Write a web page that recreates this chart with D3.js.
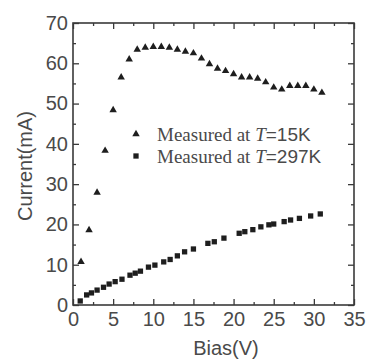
<!DOCTYPE html>
<html>
<head>
<meta charset="utf-8">
<script src="https://cdn.jsdelivr.net/npm/d3@7"></script>
<style>
  body { margin: 0; background: #fff; }
  svg { display: block; }
</style>
</head>
<body>
<div id="chart"></div>
<script>
// T = 15K (triangles)
const biasLow = [1, 2, 3, 4, 5, 6, 7, 8, 9, 10, 11, 12, 13, 14, 15, 16, 17, 18, 19, 20,
    21, 22, 23, 24, 25, 26, 27, 28, 29, 30, 31];
const currentLow = [10.7, 18.6, 27.9, 38.3, 48.4, 56.5, 61.0, 63.4, 63.9, 64.1, 64.1, 63.9, 63.4, 62.9,
    62.5, 61.2, 59.8, 58.7, 58.1, 57.3, 56.5, 56.5, 56.2, 55.3, 54.0, 53.5, 54.4, 54.4, 54.4, 53.5, 52.7];

// T = 297K (squares)
const biasHigh = [0.9, 1.7, 2.3, 3.0, 3.8, 4.5, 5.25, 6.1, 7.1, 7.75, 8.4, 9.4, 10.2, 11.3, 12.1, 13.0,
    13.9, 15.0, 16.8, 17.6, 18.8, 20.7, 21.4, 22.4, 23.4, 24.4, 25.0, 26.3, 27.1, 28.2, 29.6, 30.8];
const currentHigh = [1.0, 2.5, 3.0, 3.7, 4.4, 5.2, 5.8, 6.4, 7.4, 7.9, 8.4, 9.4, 9.9, 10.7, 11.3, 12.2,
    13.2, 13.9, 15.3, 15.7, 16.6, 17.8, 18.2, 18.7, 19.4, 19.9, 20.1, 20.7, 21.1, 21.5, 22.1, 22.6];

const xMajor = [0, 5, 10, 15, 20, 25, 30, 35];
const xMinor = [2.5, 7.5, 12.5, 17.5, 22.5, 27.5, 32.5];
const yMajor = [0, 10, 20, 30, 40, 50, 60, 70];
const yMinor = [5, 15, 25, 35, 45, 55, 65];

const width = 368, height = 359;
const margin = { top: 23, right: 14, bottom: 54, left: 73 };
const innerWidth = width - margin.left - margin.right;
const innerHeight = height - margin.top - margin.bottom;

const textColor = '#4a4a4a';
const frameColor = '#3a3a3a';
const markColor = '#1e1e1e';

const svg = d3.select('#chart').append('svg')
    .attr('width', width)
    .attr('height', height);

const chart = svg.append('g')
    .attr('transform', `translate(${margin.left}, ${margin.top})`);

const xScale = d3.scaleLinear().domain([0, 35]).range([0, innerWidth]);
const yScale = d3.scaleLinear().domain([0, 70]).range([innerHeight, 0]);

// all ticks point inward; unlabeled axes lose their empty texts
function styleAxis(g) {
    g.select('.domain').remove();
    g.selectAll('.tick line').attr('stroke', frameColor).attr('stroke-width', 1.3);
    g.selectAll('.tick text').filter(function() { return this.textContent === ''; }).remove();
    g.selectAll('.tick text')
        .attr('fill', textColor)
        .style('font-family', '"Liberation Sans", Arial, sans-serif')
        .style('font-size', '20px');
}

chart.append('g')
    .attr('transform', `translate(0, ${innerHeight})`)
    .call(d3.axisBottom(xScale).tickValues(xMajor).tickSize(-6).tickPadding(7))
    .call(styleAxis);
chart.append('g')
    .attr('transform', `translate(0, ${innerHeight})`)
    .call(d3.axisBottom(xScale).tickValues(xMinor).tickSize(-3).tickFormat(''))
    .call(styleAxis);
chart.append('g')
    .call(d3.axisTop(xScale).tickValues(xMajor).tickSize(-6).tickFormat(''))
    .call(styleAxis);
chart.append('g')
    .call(d3.axisTop(xScale).tickValues(xMinor).tickSize(-3).tickFormat(''))
    .call(styleAxis);

chart.append('g')
    .call(d3.axisLeft(yScale).tickValues(yMajor).tickSize(-6).tickPadding(5))
    .call(styleAxis);
chart.append('g')
    .call(d3.axisLeft(yScale).tickValues(yMinor).tickSize(-3).tickFormat(''))
    .call(styleAxis);
chart.append('g')
    .attr('transform', `translate(${innerWidth}, 0)`)
    .call(d3.axisRight(yScale).tickValues(yMajor).tickSize(-6).tickFormat(''))
    .call(styleAxis);
chart.append('g')
    .attr('transform', `translate(${innerWidth}, 0)`)
    .call(d3.axisRight(yScale).tickValues(yMinor).tickSize(-3).tickFormat(''))
    .call(styleAxis);

chart.append('rect')
    .attr('width', innerWidth)
    .attr('height', innerHeight)
    .attr('fill', 'none')
    .attr('stroke', frameColor)
    .attr('stroke-width', 1.6);

const triangle = d3.symbol().type(d3.symbolTriangle).size(24);
const square = d3.symbol().type(d3.symbolSquare).size(28);

chart.selectAll('.tri')
    .data(biasLow.map((b, i) => ({ x: b, y: currentLow[i] })))
    .enter()
    .append('path')
    .attr('class', 'tri')
    .attr('d', triangle)
    .attr('transform', d => `translate(${xScale(d.x)}, ${yScale(d.y)})`)
    .attr('fill', markColor);

chart.selectAll('.sq')
    .data(biasHigh.map((b, i) => ({ x: b, y: currentHigh[i] })))
    .enter()
    .append('path')
    .attr('class', 'sq')
    .attr('d', square)
    .attr('transform', d => `translate(${xScale(d.x)}, ${yScale(d.y)})`)
    .attr('fill', markColor);

// legend
const legendItems = [
    { symbol: triangle, temp: '=15K' },
    { symbol: square, temp: '=297K' }
];

const legend = svg.append('g').attr('transform', 'translate(136, 134)');

legendItems.forEach((item, i) => {
    const row = legend.append('g').attr('transform', `translate(0, ${i * 22})`);
    row.append('path')
        .attr('d', item.symbol)
        .attr('fill', markColor);
    const text = row.append('text')
        .attr('x', 21)
        .attr('y', 7)
        .attr('fill', textColor)
        .style('font-size', '19px');
    text.append('tspan')
        .style('font-family', '"Liberation Serif", "Times New Roman", serif')
        .text('Measured at ');
    text.append('tspan')
        .style('font-family', '"Liberation Serif", "Times New Roman", serif')
        .style('font-style', 'italic')
        .text('T');
    text.append('tspan')
        .style('font-family', '"Liberation Sans", Arial, sans-serif')
        .text(item.temp);
});

// axis titles
svg.append('text')
    .attr('transform', `translate(32, ${margin.top + innerHeight / 2 + 2}) rotate(-90)`)
    .attr('text-anchor', 'middle')
    .attr('fill', textColor)
    .style('font-family', '"Liberation Sans", Arial, sans-serif')
    .style('font-size', '20px')
    .text('Current(mA)');

svg.append('text')
    .attr('x', 226)
    .attr('y', 355)
    .attr('text-anchor', 'middle')
    .attr('fill', textColor)
    .style('font-family', '"Liberation Sans", Arial, sans-serif')
    .style('font-size', '20px')
    .text('Bias(V)');
</script>
</body>
</html>
